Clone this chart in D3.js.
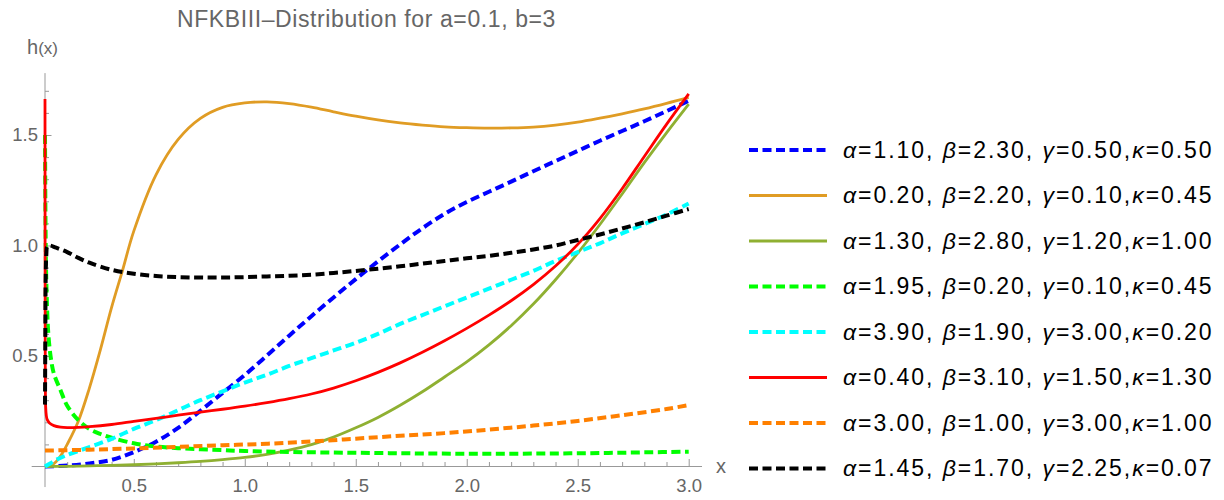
<!DOCTYPE html>
<html>
<head>
<meta charset="utf-8">
<script src="https://cdn.jsdelivr.net/npm/d3@7"></script>
<style>
body { margin: 0; background: #fff; }
text { font-family: "Liberation Sans", Arial, sans-serif; }
</style>
</head>
<body>
<svg id="chart" width="1224" height="500"></svg>
<script>
// hazard curves, [x, h(x)]
const curve1 = [[0.1,0],[0.2,0.004],[0.3,0.014],[0.4,0.03],[0.5,0.065],[0.6,0.112],[0.7,0.175],[0.8,0.252],[0.9,0.333],[1.0,0.414],[1.1,0.502],[1.2,0.592],[1.3,0.68],[1.4,0.765],[1.5,0.848],[1.6,0.928],[1.7,1.005],[1.8,1.078],[1.9,1.143],[2.0,1.197],[2.1,1.243],[2.2,1.289],[2.3,1.336],[2.4,1.382],[2.5,1.428],[2.6,1.474],[2.7,1.518],[2.8,1.562],[2.9,1.608],[3.0,1.655]];
const curve2 = [[0.1,0],[0.125,0.004],[0.15,0.022],[0.175,0.055],[0.2,0.1],[0.25,0.205],[0.3,0.355],[0.35,0.53],[0.4,0.72],[0.45,0.89],[0.5,1.065],[0.6,1.32],[0.7,1.48],[0.8,1.575],[0.9,1.625],[1.0,1.645],[1.1,1.65],[1.2,1.642],[1.3,1.626],[1.4,1.605],[1.5,1.585],[1.6,1.568],[1.7,1.555],[1.8,1.545],[1.9,1.537],[2.0,1.533],[2.1,1.531],[2.2,1.532],[2.3,1.536],[2.4,1.545],[2.5,1.558],[2.6,1.576],[2.7,1.596],[2.8,1.618],[2.9,1.643],[3.0,1.67]];
const curve3 = [[0.1,0],[0.2,0.001],[0.3,0.003],[0.4,0.005],[0.5,0.008],[0.6,0.012],[0.7,0.017],[0.8,0.023],[0.9,0.031],[1.0,0.041],[1.1,0.055],[1.2,0.074],[1.3,0.099],[1.4,0.133],[1.5,0.175],[1.6,0.222],[1.7,0.277],[1.8,0.338],[1.9,0.405],[2.0,0.473],[2.1,0.55],[2.2,0.637],[2.3,0.735],[2.4,0.845],[2.5,0.965],[2.6,1.095],[2.7,1.233],[2.8,1.375],[2.9,1.51],[3.0,1.64]];
const curve4 = [[0.1,1.5],[0.102,1.15],[0.105,0.88],[0.11,0.7],[0.115,0.6],[0.125,0.5],[0.14,0.42],[0.17,0.345],[0.2,0.275],[0.25,0.21],[0.3,0.17],[0.35,0.147],[0.4,0.13],[0.5,0.105],[0.6,0.09],[0.7,0.083],[0.8,0.078],[0.9,0.074],[1.0,0.07],[1.2,0.066],[1.4,0.063],[1.6,0.061],[1.8,0.059],[2.0,0.058],[2.2,0.058],[2.4,0.059],[2.6,0.061],[2.8,0.064],[3.0,0.067]];
const curve5 = [[0.1,0],[0.125,0.015],[0.15,0.03],[0.2,0.052],[0.3,0.088],[0.4,0.125],[0.5,0.17],[0.6,0.21],[0.7,0.255],[0.8,0.3],[0.9,0.34],[1.0,0.38],[1.1,0.415],[1.2,0.455],[1.3,0.49],[1.4,0.525],[1.5,0.56],[1.6,0.6],[1.7,0.645],[1.8,0.685],[1.9,0.725],[2.0,0.765],[2.1,0.805],[2.2,0.845],[2.3,0.885],[2.4,0.93],[2.5,0.97],[2.6,1.01],[2.7,1.055],[2.8,1.097],[2.9,1.14],[3.0,1.19]];
const curve6 = [[0.1,1.663],[0.1004,1.0],[0.1008,0.6],[0.1015,0.38],[0.103,0.27],[0.106,0.23],[0.11,0.212],[0.12,0.197],[0.14,0.185],[0.17,0.178],[0.2,0.176],[0.25,0.177],[0.3,0.18],[0.4,0.19],[0.5,0.204],[0.6,0.218],[0.7,0.232],[0.8,0.246],[0.9,0.259],[1.0,0.273],[1.1,0.289],[1.2,0.307],[1.3,0.328],[1.4,0.355],[1.5,0.388],[1.6,0.426],[1.7,0.469],[1.8,0.517],[1.9,0.569],[2.0,0.625],[2.1,0.685],[2.2,0.75],[2.3,0.823],[2.4,0.907],[2.5,1.005],[2.6,1.122],[2.7,1.257],[2.8,1.403],[2.9,1.548],[3.0,1.686]];
const curve7 = [[0.1,0.072],[0.3,0.076],[0.5,0.082],[0.7,0.089],[0.9,0.096],[1.1,0.103],[1.3,0.113],[1.5,0.126],[1.7,0.139],[1.9,0.151],[2.1,0.167],[2.3,0.185],[2.5,0.206],[2.7,0.232],[2.9,0.26],[3.0,0.278]];
const curve8 = [[0.1,0.28],[0.1015,0.6],[0.103,0.85],[0.106,0.96],[0.11,0.995],[0.12,1.0],[0.15,0.99],[0.2,0.97],[0.25,0.944],[0.3,0.922],[0.4,0.89],[0.5,0.872],[0.6,0.862],[0.7,0.857],[0.8,0.855],[0.9,0.855],[1.0,0.857],[1.1,0.86],[1.2,0.863],[1.3,0.868],[1.4,0.876],[1.5,0.885],[1.6,0.895],[1.7,0.906],[1.8,0.918],[1.9,0.93],[2.0,0.942],[2.1,0.953],[2.2,0.967],[2.3,0.982],[2.4,1.0],[2.5,1.025],[2.6,1.05],[2.7,1.077],[2.8,1.105],[2.9,1.135],[3.0,1.165]];

const curves = [curve1, curve2, curve3, curve4, curve5, curve6, curve7, curve8];

// legend parameters
const alphas = ["1.10", "0.20", "1.30", "1.95", "3.90", "0.40", "3.00", "1.45"];
const betas  = ["2.30", "2.20", "2.80", "0.20", "1.90", "3.10", "1.00", "1.70"];
const gammas = ["0.50", "0.10", "1.20", "0.10", "3.00", "1.50", "3.00", "2.25"];
const kappas = ["0.50", "0.45", "1.00", "0.45", "0.20", "1.30", "1.00", "0.07"];

const xMajorTicks = [0.5, 1.0, 1.5, 2.0, 2.5, 3.0];
const yMajorTicks = [0.5, 1.0, 1.5];

// styles
const colors = ["#0000ff", "#e09c24", "#8fb032", "#00ff00", "#00ffff", "#ff0000", "#ff8000", "#000000"];
const dashed = [true, false, false, true, true, false, true, true];

const svg = d3.select("#chart");

let x = d3.scaleLinear().domain([0.1, 3.0]).range([45, 688.7]);
let y = d3.scaleLinear().domain([0, 1.7]).range([466.5, 90.8]);

let xMinor = d3.range(2, 30).map(i => i / 10).filter(v => xMajorTicks.indexOf(v) < 0);
let yMinor = d3.range(1, 18).map(i => i / 10).filter(v => yMajorTicks.indexOf(v) < 0);

// title + axis labels
svg.append("text")
    .attr("x", 177).attr("y", 27)
    .attr("font-size", 23).attr("letter-spacing", 0.6).attr("fill", "#666")
    .text("NFKBIII\u2013Distribution for a=0.1, b=3");

let hx = svg.append("text")
    .attr("x", 27).attr("y", 54)
    .attr("fill", "#666");
hx.append("tspan").attr("font-size", 20).text("h");
hx.append("tspan").attr("font-size", 17).text("(x)");

svg.append("text")
    .attr("x", x(3.06) + 14).attr("y", y(0) + 6.5)
    .attr("font-size", 20).attr("fill", "#666")
    .text("x");

// axes lines
let axisCol = "#999";
svg.append("line")
    .attr("x1", x(0.04)).attr("x2", x(3.06))
    .attr("y1", y(0)).attr("y2", y(0))
    .attr("stroke", axisCol);
svg.append("line")
    .attr("x1", x(0.1)).attr("x2", x(0.1))
    .attr("y1", y(-0.093)).attr("y2", y(1.78))
    .attr("stroke", axisCol);

function styleAxis(g) {
    g.select(".domain").remove();
    g.selectAll(".tick line").attr("stroke", axisCol);
    g.selectAll(".tick text").attr("fill", "#666").attr("font-size", 18.5)
        .attr("font-family", "Liberation Sans, Arial, sans-serif");
}

svg.append("g")
    .attr("transform", "translate(0," + y(0) + ")")
    .call(d3.axisBottom(x).tickValues(xMajorTicks).tickFormat(d3.format(".1f"))
        .tickSizeInner(-7.5).tickSizeOuter(0).tickPadding(12.5))
    .call(styleAxis);
svg.append("g")
    .attr("transform", "translate(0," + y(0) + ")")
    .call(d3.axisBottom(x).tickValues(xMinor).tickFormat("")
        .tickSizeInner(-4.5).tickSizeOuter(0))
    .call(styleAxis);

svg.append("g")
    .attr("transform", "translate(" + x(0.1) + ",0)")
    .call(d3.axisLeft(y).tickValues(yMajorTicks).tickFormat(d3.format(".1f"))
        .tickSizeInner(-6.5).tickSizeOuter(0).tickPadding(7))
    .call(styleAxis);
svg.append("g")
    .attr("transform", "translate(" + x(0.1) + ",0)")
    .call(d3.axisLeft(y).tickValues(yMinor).tickFormat("")
        .tickSizeInner(-4).tickSizeOuter(0))
    .call(styleAxis);

// curves
let line = d3.line()
    .x(d => x(d[0]))
    .y(d => y(d[1]))
    .curve(d3.curveCatmullRom.alpha(0.5));

svg.append("g").selectAll("path")
    .data(curves)
    .enter().append("path")
    .attr("d", d => line(d))
    .attr("fill", "none")
    .attr("stroke", (d, i) => colors[i])
    .attr("stroke-width", (d, i) => dashed[i] ? 4 : 2.8)
    .attr("stroke-dasharray", (d, i) => dashed[i] ? "9,4.5" : null);

// legend
let rowH = 45.5;
let legend = svg.append("g").attr("transform", "translate(749,150)");
let rows = legend.selectAll("g")
    .data(alphas)
    .enter().append("g")
    .attr("transform", (d, i) => "translate(0," + (i * rowH) + ")");

rows.append("line")
    .attr("x1", 0).attr("x2", 78)
    .attr("y1", 0).attr("y2", 0)
    .attr("stroke", (d, i) => colors[i])
    .attr("stroke-width", (d, i) => dashed[i] ? 4 : 2.8)
    .attr("stroke-dasharray", (d, i) => dashed[i] ? "9,4.5" : null);

let txt = rows.append("text")
    .attr("x", 94).attr("y", 7.5)
    .attr("font-size", 23)
    .attr("letter-spacing", 1.95)
    .attr("fill", "#000");
txt.each(function(d, i) {
    let t = d3.select(this);
    t.append("tspan").attr("font-style", "italic").text("\u03b1");
    t.append("tspan").text("=" + alphas[i] + ", ");
    t.append("tspan").attr("font-style", "italic").text("\u03b2");
    t.append("tspan").text("=" + betas[i] + ", ");
    t.append("tspan").attr("font-style", "italic").text("\u03b3");
    t.append("tspan").text("=" + gammas[i] + ",");
    t.append("tspan").attr("font-style", "italic").text("\u03ba");
    t.append("tspan").text("=" + kappas[i]);
});
</script>
</body>
</html>
